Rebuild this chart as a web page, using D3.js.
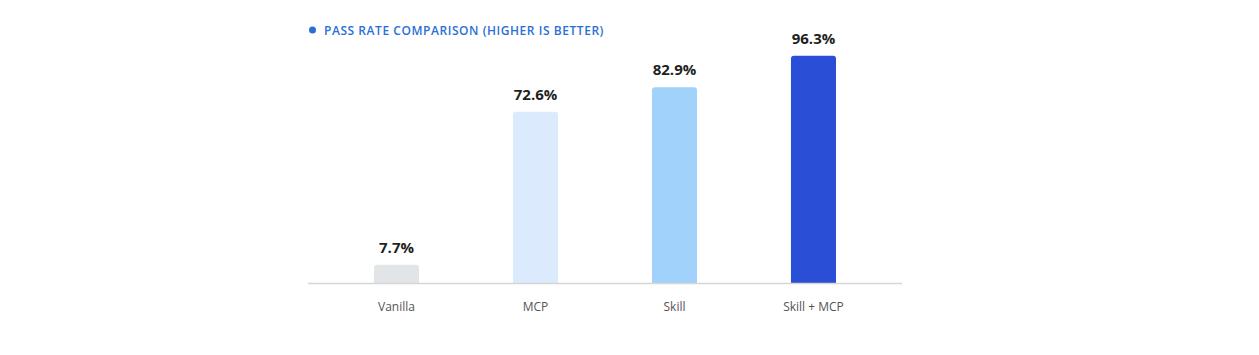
<!DOCTYPE html>
<html>
<head>
<meta charset="utf-8">
<script src="https://cdn.jsdelivr.net/npm/d3@7"></script>
<style>
  body { margin: 0; background: #fff; }
  svg { display: block; font-family: "Open Sans", "Noto Sans", sans-serif; }
</style>
</head>
<body>
<script>
// chart data
var categories = ["Vanilla", "MCP", "Skill", "Skill + MCP"];
var passRates = [7.7, 72.6, 82.9, 96.3];
var barColors = ["#e2e5e8", "#dbeafd", "#a0d2fb", "#2a4fd6"];
var title = "PASS RATE COMPARISON (HIGHER IS BETTER)";

//begin script when window loads
window.onload = drawChart();

function drawChart(){

	//dimensions
	var width = 1259,
		height = 355;

	var svg = d3.select("body")
		.append("svg")
		.attr("width", width)
		.attr("height", height);

	//plot area
	var left = 308, right = 902, baseY = 283;

	var x = d3.scaleBand()
		.domain(categories)
		.range([374, 836])
		.paddingInner(0.676)
		.paddingOuter(0);

	var y = d3.scaleLinear()
		.domain([0, 100])
		.range([baseY, baseY - 236]);

	//title with dot
	svg.append("circle")
		.attr("cx", 312.5)
		.attr("cy", 30)
		.attr("r", 3.5)
		.attr("fill", "#2b6fd6");

	svg.append("text")
		.attr("x", 324)
		.attr("y", 34.5)
		.attr("fill", "#2b6fd6")
		.attr("font-size", 12)
		.attr("font-weight", 600)
		.attr("letter-spacing", 0.55)
		.text(title);

	//bars with rounded top corners
	var bw = x.bandwidth(), r = 3;
	svg.selectAll(".bar")
		.data(passRates)
		.enter()
		.append("path")
		.attr("class", "bar")
		.attr("fill", function(d, i){ return barColors[i]; })
		.attr("d", function(d, i){
			var x0 = x(categories[i]), y0 = y(d);
			return "M" + x0 + "," + baseY +
				"V" + (y0 + r) +
				"Q" + x0 + "," + y0 + " " + (x0 + r) + "," + y0 +
				"H" + (x0 + bw - r) +
				"Q" + (x0 + bw) + "," + y0 + " " + (x0 + bw) + "," + (y0 + r) +
				"V" + baseY + "Z";
		});

	//baseline
	svg.append("line")
		.attr("x1", left)
		.attr("x2", right)
		.attr("y1", baseY + 0.5)
		.attr("y2", baseY + 0.5)
		.attr("stroke", "#d6d6d6")
		.attr("stroke-width", 1.5);

	//value labels
	svg.selectAll(".val")
		.data(passRates)
		.enter()
		.append("text")
		.attr("class", "val")
		.attr("x", function(d, i){ return x(categories[i]) + bw / 2; })
		.attr("y", function(d){ return y(d) - 12; })
		.attr("text-anchor", "middle")
		.attr("font-size", 15)
		.attr("font-weight", 700)
		.attr("fill", "#1f1f1f")
		.text(function(d){ return d.toFixed(1) + "%"; });

	//category axis
	var axis = svg.append("g")
		.attr("transform", "translate(0," + baseY + ")")
		.call(d3.axisBottom(x).tickSize(0).tickPadding(19));
	axis.select(".domain").remove();
	axis.selectAll("text")
		.attr("font-size", 12)
		.attr("font-family", "\"Open Sans\", sans-serif")
		.attr("fill", "#555");
};
</script>
</body>
</html>
